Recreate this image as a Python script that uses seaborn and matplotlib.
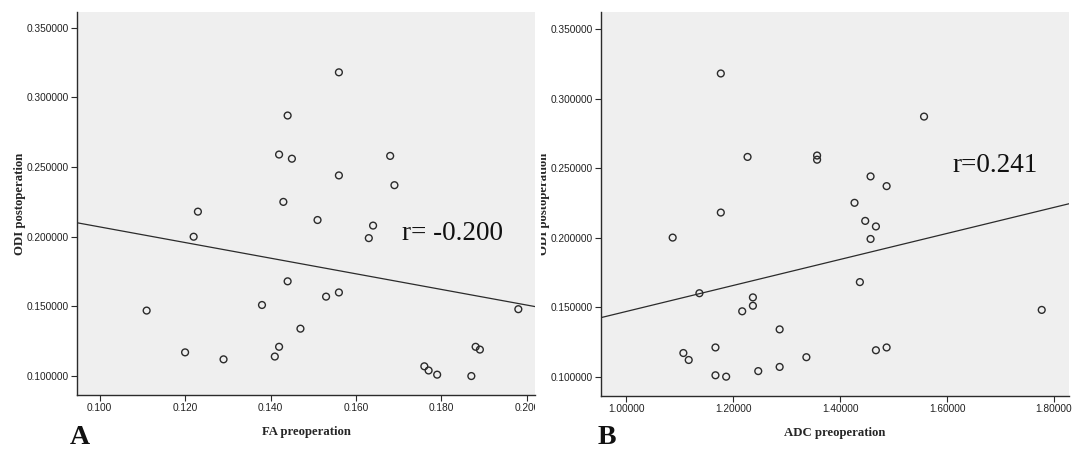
import matplotlib
matplotlib.use("Agg")
import matplotlib.pyplot as plt
import seaborn as sns
import pandas as pd
from matplotlib.ticker import FormatStrFormatter, MultipleLocator
from matplotlib.transforms import Bbox, TransformedBbox

# FA preoperation vs ODI postoperation (panel A)
fa_pre = [0.156, 0.144, 0.142, 0.145, 0.168, 0.156, 0.169, 0.143, 0.123, 0.151,
          0.164, 0.122, 0.163, 0.144, 0.156, 0.153, 0.138, 0.111, 0.198, 0.147,
          0.142, 0.120, 0.129, 0.141, 0.188, 0.189, 0.176, 0.177, 0.179, 0.187]
odi_a = [0.318, 0.287, 0.259, 0.256, 0.258, 0.244, 0.237, 0.225, 0.218, 0.212,
         0.208, 0.200, 0.199, 0.168, 0.160, 0.157, 0.151, 0.147, 0.148, 0.134,
         0.121, 0.117, 0.112, 0.114, 0.121, 0.119, 0.107, 0.104, 0.101, 0.100]

# ADC preoperation vs ODI postoperation (panel B)
adc_pre = [1.177, 1.557, 1.227, 1.357, 1.357, 1.457, 1.487, 1.427, 1.177, 1.447,
           1.467, 1.087, 1.457, 1.437, 1.137, 1.237, 1.237, 1.217, 1.777, 1.287,
           1.167, 1.107, 1.117, 1.337, 1.487, 1.467, 1.287, 1.247, 1.167, 1.187]
odi_b = [0.318, 0.287, 0.258, 0.259, 0.256, 0.244, 0.237, 0.225, 0.218, 0.212,
         0.208, 0.200, 0.199, 0.168, 0.160, 0.157, 0.151, 0.147, 0.148, 0.134,
         0.121, 0.117, 0.112, 0.114, 0.121, 0.119, 0.107, 0.104, 0.101, 0.100]

r_a = "r= -0.200"
r_b = "r=0.241"

sns.set_style("ticks")
plt.rcParams['font.family'] = ['Liberation Sans', 'DejaVu Sans']

SERIF = ['Liberation Serif', 'DejaVu Serif']
INK = '#2b2b2b'


def draw_panel(ax, x, y, xlabel, xlim, ylim, xfmt, xstep, rtext, rpos, letter, letter_x):
    df = pd.DataFrame({'x': x, 'y': y})
    ax.set_facecolor('#efefef')
    ax.set_xlim(xlim)
    ax.set_ylim(ylim)
    sns.regplot(data=df, x='x', y='y', ax=ax, scatter=False, ci=None, truncate=False,
                line_kws={'color': INK, 'linewidth': 0.9})
    sns.scatterplot(data=df, x='x', y='y', ax=ax, s=24, facecolors='none',
                    edgecolor=INK, linewidth=1.0, zorder=3)
    ax.set_xlim(xlim)
    ax.set_ylim(ylim)

    ax.xaxis.set_major_locator(MultipleLocator(xstep))
    ax.xaxis.set_major_formatter(FormatStrFormatter(xfmt))
    ax.yaxis.set_major_locator(MultipleLocator(0.05))
    ax.yaxis.set_major_formatter(FormatStrFormatter('%.6f'))
    ax.tick_params(axis='both', direction='out', length=4.5, width=0.8, pad=1.5,
                   labelsize=7.3, color=INK, labelcolor='#222222')

    for side in ['top', 'right']:
        ax.spines[side].set_visible(False)
    for side in ['left', 'bottom']:
        ax.spines[side].set_color(INK)
        ax.spines[side].set_linewidth(1.0)

    ax.set_xlabel(xlabel, family=SERIF, fontweight='bold', fontsize=9.2, labelpad=9)
    ax.set_ylabel('ODI postoperation', family=SERIF, fontweight='bold', fontsize=9.2,
                  labelpad=0.5)
    ax.text(rpos[0], rpos[1], rtext, family=SERIF, fontsize=19.5, color='#111111',
            va='baseline', ha='left')
    ax.figure.text(letter_x, 0.008, letter, family=SERIF, fontweight='bold',
                   fontsize=20, color='#111111', va='bottom', ha='left')


fig = plt.figure(figsize=(10.83, 4.54), dpi=100)
ax_a = fig.add_axes([77 / 1083, 59 / 454, 458 / 1083, 383 / 454])
ax_b = fig.add_axes([601 / 1083, 58 / 454, 468 / 1083, 384 / 454])

draw_panel(ax_a, fa_pre, odi_a, 'FA preoperation', (0.0947, 0.2019), (0.0864, 0.3613),
           '%.3f', 0.02, r_a, (0.1708, 0.1976), 'A', 70 / 1083)
draw_panel(ax_b, adc_pre, odi_b, 'ADC preoperation', (0.953, 1.828), (0.0861, 0.3622),
           '%.5f', 0.2, r_b, (1.611, 0.2471), 'B', 598 / 1083)

# the two panels were cropped from separate images in the original figure
clip_a = TransformedBbox(Bbox([[0, 0], [535 / 1083, 1]]), fig.transFigure)
for lab in ax_a.get_xticklabels():
    lab.set_clip_box(clip_a)
    lab.set_clip_on(True)
clip_b = TransformedBbox(Bbox([[541 / 1083, 0], [1, 1]]), fig.transFigure)
ax_b.yaxis.label.set_clip_box(clip_b)
ax_b.yaxis.label.set_clip_on(True)

fig.savefig('out.png', dpi=100)
